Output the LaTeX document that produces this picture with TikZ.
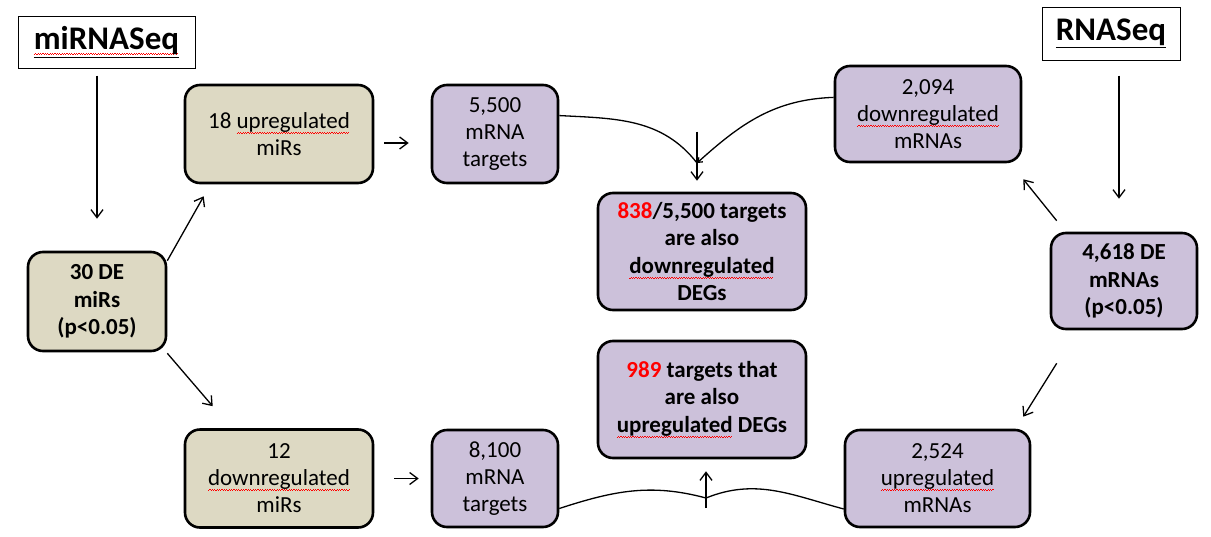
\documentclass[tikz,border=0pt]{standalone}
\usepackage{fontspec}
\setmainfont{Carlito}
\usetikzlibrary{arrows.meta,calc}
\newsavebox{\wvbox}
\newcommand{\wv}[1]{\sbox{\wvbox}{#1}\rlap{\raisebox{-5.5pt}{\hbox to \wd\wvbox{\color{red}\leaders\hbox to 2.4pt{\rule{1.2pt}{1.1pt}\raisebox{1.1pt}{\rule{1.2pt}{1.1pt}}}\hfill}}}\usebox{\wvbox}}
\definecolor{tanfill}{HTML}{DDD9C3}
\definecolor{lilac}{HTML}{CCC1DA}

\begin{document}
\begin{tikzpicture}[x=1pt, y=1pt,
    title/.style={draw, line width=1pt, inner sep=0pt, font=\fontsize{33}{38}\selectfont\bfseries},
    box/.style={draw, line width=2.6pt, rounded corners=15pt, align=center, inner sep=0pt,
      font=\fontsize{23}{27}\selectfont},
    bbox/.style={font=\fontsize{23}{27.5}\selectfont\bfseries},
    mir/.style={box, fill=tanfill, minimum width=188pt, minimum height=98pt},
    rna/.style={box, fill=lilac},
    arr/.style={-{Straight Barb[length=8pt, width=12pt]}, line width=1.3pt},
    lnk/.style={line width=1.3pt}
  ]
    \useasboundingbox (0,0) rectangle (1211,-536);
    \node[title, minimum width=177pt, minimum height=52pt] (mirseq) at (106.5,-42) {\underline{\wv{miRNASeq}}};
    \node[title, minimum width=138pt, minimum height=53pt] (rnaseq) at (1111,-33.5) {\underline{RNASeq}};
    \node[mir] (up18) at (279,-134) {18 \wv{upregulated}\\miRs};
    \node[mir] (down12) at (279,-478.5) {12\\\wv{downregulated}\\miRs};
    \node[mir, bbox, minimum width=138pt, minimum height=99pt] (de30) at (97,-301.5) {30 DE\\miRs\\(p<0.05)};
    \node[rna, minimum width=126pt, minimum height=98pt] (t55) at (495,-134) {5,500\\mRNA\\targets};
    \node[rna, minimum width=126pt, minimum height=97pt] (t81) at (495,-478.5) {8,100\\mRNA\\targets};
    \node[rna, minimum width=186pt, minimum height=96pt] (down2094) at (928,-114) {2,094\\\wv{downregulated}\\mRNAs};
    \node[rna, minimum width=185pt, minimum height=97pt] (up25) at (937.5,-478.5) {2,524\\\wv{upregulated}\\mRNAs};
    \node[rna, bbox, minimum width=146pt, minimum height=96pt] (de4618) at (1124,-281) {4,618 DE\\mRNAs\\(p<0.05)};
    \node[rna, bbox, minimum width=208pt, minimum height=117pt] (ov838) at (702,-251.5) {\textcolor{red}{838}/5,500 targets\\are also\\\wv{downregulated}\\DEGs};
    \node[rna, bbox, minimum width=208pt, minimum height=117pt] (ov989) at (702,-399.5) {\textcolor{red}{989} targets that\\are also\\\wv{upregulated} DEGs};
    \coordinate (jtop) at (697,-163);
    \coordinate (jbot) at (706,-498);
    \draw[arr, shorten <=7pt, shorten >=32pt] (mirseq.south -| de30) -- (de30.north);
    \draw[arr, shorten <=15pt, shorten >=33pt] ([xshift=8pt]rnaseq.south) -- ([xshift=8pt]rnaseq.south |- de4618.north);
    \draw[arr] ($(de30.north east)+(0,-10)$) -- ($(up18.south west)+(20,-12)$);
    \draw[arr] ($(de30.south east)+(0,-1)$) -- ($(down12.north west)+(29,22)$);
    \draw[arr, shorten <=10pt, shorten >=22pt] ([yshift=-9pt]up18.east) -- ([yshift=-9pt]t55.west);
    \draw[arr, shorten <=20pt, shorten >=12pt] (down12.east) -- (t81.west);
    \draw[arr] ($(de4618.north west)+(7,11)$) -- ($(down2094.south east)+(1,-16)$);
    \draw[arr] ($(de4618.south west)+(7,-33)$) -- ($(up25.north east)+(-8,12)$);
    \draw[lnk] (t55.16) to[out=-3, in=128] (jtop);
    \draw[-{Straight Barb[length=4pt, width=6pt]}, line width=1.3pt] (down2094.170) to[out=182, in=42] (jtop);
    \draw[arr] ([xshift=-5pt]ov838.north) ++(0,60) -- ([xshift=-5pt, yshift=11pt]ov838.north);
    \draw[lnk] (t81.-25) to[out=18, in=165] (jbot) to[out=22, in=165] (up25.198);
    \draw[arr] (jbot) ++(0,-10) -- ([xshift=4pt, yshift=-12pt]ov989.south);
  \end{tikzpicture}
\end{document}
